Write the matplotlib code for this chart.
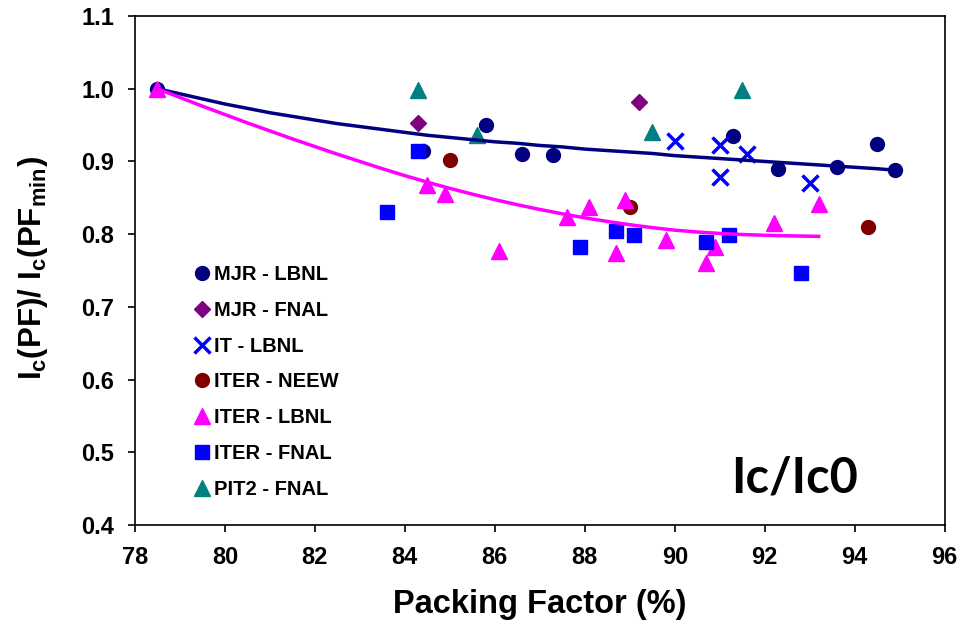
import numpy as np
import matplotlib.pyplot as plt

plt.rcParams['mathtext.fontset'] = 'custom'
plt.rcParams['mathtext.rm'] = 'Liberation Sans:bold'
plt.rcParams['mathtext.bf'] = 'Liberation Sans:bold'
plt.rcParams['mathtext.it'] = 'Liberation Sans:bold'

# データ (Packing Factor %, Ic/Ic0)
mjr_lbnl_x = [78.5, 84.4, 85.8, 86.6, 87.3, 91.3, 92.3, 93.6, 94.5, 94.9]
mjr_lbnl_y = [1.000, 0.915, 0.950, 0.910, 0.909, 0.935, 0.889, 0.893, 0.924, 0.888]

mjr_fnal_x = [84.3, 89.2]
mjr_fnal_y = [0.953, 0.982]

it_lbnl_x = [90.0, 91.0, 91.6, 91.0, 93.0]
it_lbnl_y = [0.928, 0.922, 0.910, 0.879, 0.870]

iter_neew_x = [85.0, 89.0, 94.3]
iter_neew_y = [0.902, 0.838, 0.810]

iter_lbnl_x = [78.5, 84.5, 84.9, 86.1, 87.6, 88.1, 88.7, 88.9, 89.8, 90.9, 90.7, 92.2, 93.2]
iter_lbnl_y = [1.000, 0.868, 0.855, 0.777, 0.823, 0.837, 0.774, 0.847, 0.792, 0.782, 0.760, 0.815, 0.842]

iter_fnal_x = [84.3, 83.6, 87.9, 88.7, 89.1, 90.7, 91.2, 92.8]
iter_fnal_y = [0.914, 0.830, 0.782, 0.804, 0.799, 0.789, 0.799, 0.747]

pit2_fnal_x = [84.3, 85.6, 89.5, 91.5]
pit2_fnal_y = [0.998, 0.937, 0.940, 0.998]

# トレンドライン
trend_mjr_x = [78.5, 79.0, 79.5, 80.0, 80.5, 81.0, 81.5, 82.0, 82.5, 83.0, 83.5, 84.0, 84.5,
               85.0, 85.5, 86.0, 86.5, 87.0, 87.5, 88.0, 88.5, 89.0, 89.5, 90.0, 90.5, 91.0,
               91.5, 92.0, 92.5, 93.0, 93.5, 94.0, 94.5, 94.9]
trend_mjr_y = [1.000, 0.993, 0.986, 0.979, 0.973, 0.967, 0.962, 0.957, 0.952, 0.948, 0.944,
               0.940, 0.936, 0.933, 0.930, 0.927, 0.925, 0.922, 0.920, 0.917, 0.915, 0.913,
               0.911, 0.908, 0.906, 0.904, 0.902, 0.900, 0.898, 0.896, 0.894, 0.892, 0.890,
               0.888]
trend_iter_x = [78.5, 79.0, 79.5, 80.0, 80.5, 81.0, 81.5, 82.0, 82.5, 83.0, 83.5, 84.0, 84.5,
                85.0, 85.5, 86.0, 86.5, 87.0, 87.5, 88.0, 88.5, 89.0, 89.5, 90.0, 90.5, 91.0,
                91.5, 92.0, 92.5, 93.0, 93.2]
trend_iter_y = [1.000, 0.988, 0.976, 0.9645, 0.953, 0.942, 0.931, 0.9205, 0.910, 0.900, 0.890,
                0.8805, 0.8715, 0.863, 0.855, 0.8475, 0.8405, 0.834, 0.828, 0.8225, 0.8175,
                0.813, 0.809, 0.8055, 0.803, 0.801, 0.7995, 0.7985, 0.7977, 0.7972, 0.797]

fig = plt.figure(figsize=(9.6, 6.26), dpi=100)
ax = fig.add_axes([0.1406, 0.1613, 0.8434, 0.8131])

ax.plot(mjr_lbnl_x, mjr_lbnl_y, 'o', color='#000080', ms=10, ls='none', label='MJR - LBNL')
ax.plot(mjr_fnal_x, mjr_fnal_y, 'D', color='#800080', ms=8, ls='none', label='MJR - FNAL')
ax.plot(it_lbnl_x, it_lbnl_y, 'x', color='#0000FF', ms=11, mew=2.5, ls='none', label='IT - LBNL')
ax.plot(iter_neew_x, iter_neew_y, 'o', color='#800000', ms=10, ls='none', label='ITER - NEEW')
ax.plot(iter_lbnl_x, iter_lbnl_y, '^', color='#FF00FF', ms=11, ls='none', label='ITER - LBNL')
ax.plot(iter_fnal_x, iter_fnal_y, 's', color='#0000FF', ms=10.5, ls='none', label='ITER - FNAL')
ax.plot(pit2_fnal_x, pit2_fnal_y, '^', color='#008080', ms=11, ls='none', label='PIT2 - FNAL')

ax.plot(trend_mjr_x, trend_mjr_y, color='#000080', lw=2.5, solid_joinstyle='round')
ax.plot(trend_iter_x, trend_iter_y, color='#FF00FF', lw=2.5, solid_joinstyle='round')

ax.set_xlim(78, 96)
ax.set_ylim(0.4, 1.1)
ax.set_xticks(np.arange(78, 97, 2))
yt = np.arange(0.4, 1.11, 0.1)
ax.set_yticks(yt)
ax.set_yticklabels([f'{v:.1f}' for v in yt])
ax.tick_params(direction='out', length=5, width=1.2, labelsize=17, pad=10)
for lab in ax.get_xticklabels() + ax.get_yticklabels():
    lab.set_fontweight('bold')
    lab.set_family('Liberation Sans')
for s in ax.spines.values():
    s.set_linewidth(1.2)

ax.set_xlabel('Packing Factor (%)', fontsize=23.5, fontweight='bold', family='Liberation Sans')
ax.xaxis.set_label_coords(0.5, -0.125)
ax.set_ylabel(r'$\mathrm{I_c(PF)/\ I_c(PF_{min})}$', fontsize=22.5)
ax.yaxis.set_label_coords(-0.105, 0.505)

ax.text(0.8926, 0.063, 'Ic/Ic0', fontsize=35, fontweight='bold', family='Lato',
        ha='right', va='baseline', transform=ax.transAxes)

leg = ax.legend(loc='upper left', bbox_to_anchor=(0.065, 0.526), frameon=False,
                handlelength=0.6, handletextpad=0.3, labelspacing=0.83, borderaxespad=0,
                prop={'family': 'Liberation Sans', 'weight': 'bold', 'size': 14.5})

plt.savefig('out.png', dpi=100)
